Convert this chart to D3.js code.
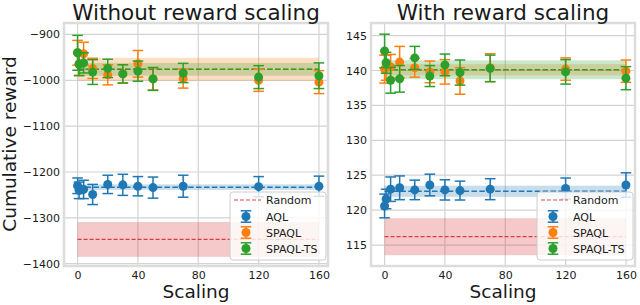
<!DOCTYPE html>
<html>
<head>
<meta charset="utf-8">
<script src="https://cdn.jsdelivr.net/npm/d3@7"></script>
<style>
body { margin: 0; background: #fff; }
text { font-family: 'DejaVu Sans', sans-serif; fill: #1a1a1a; }
</style>
</head>
<body>
<script>
var scaling = [0, 1, 4, 10, 20, 30, 40, 50, 70, 120, 160];
var seriesNames = ['AQL', 'SPAQL', 'SPAQL-TS'];
var xTicks = [0, 40, 80, 120, 160];

// without reward scaling
var aqlNoScale = [-1230, -1240, -1238, -1249, -1227, -1228, -1231, -1234, -1231, -1232, -1231];
var aqlNoScaleErr = [17, 18, 20, 22, 20, 23, 21, 23, 24, 22, 22];
var spaqlNoScale = [-940, -964, -942, -974, -988, -986, -964, -997, -996, -1000, -1004];
var spaqlNoScaleErr = [27, 25, 25, 22, 22, 20, 29, 24, 21, 24, 25];
var spaqlTsNoScale = [-940, -965, -962, -982, -974, -986, -980, -997, -984, -993, -990];
var spaqlTsNoScaleErr = [38, 25, 22, 27, 20, 20, 22, 25, 21, 25, 28];
var meanNoScale = [-1233, -976, -976];
var bandNoScale = [6, 25, 14];
var randomNoScale = -1347;
var randomNoScaleBand = 38;
var yTicksNoScale = [-1400, -1300, -1200, -1100, -1000, -900];

// with reward scaling
var aqlScale = [120.6, 121.6, 123.0, 123.2, 122.9, 123.6, 122.9, 122.8, 123.0, 123.1, 123.6];
var aqlScaleErr = [1.7, 1.4, 1.75, 1.7, 1.4, 1.55, 1.45, 1.35, 1.5, 1.5, 1.75];
var spaqlScale = [140.2, 140.4, 140.5, 141.2, 140.4, 139.8, 139.8, 138.5, 140.4, 140.2, 139.9];
var spaqlScaleErr = [2.0, 1.8, 1.8, 2.25, 1.35, 1.55, 1.75, 1.9, 2.0, 1.6, 1.6];
var spaqlTsScale = [142.8, 141.1, 138.6, 138.8, 141.8, 139.2, 140.8, 139.7, 140.3, 139.8, 138.9];
var spaqlTsScaleErr = [2.4, 1.5, 1.85, 1.9, 1.65, 1.5, 1.55, 1.8, 1.9, 1.75, 1.65];
var meanScale = [122.7, 140.1, 140.1];
var bandScale = [0.8, 0.8, 1.35];
var randomScale = 116.2;
var randomScaleBand = 2.65;
var yTicksScale = [115, 120, 125, 130, 135, 140, 145];

var chart = function() {
  var svg;
  var colors = ['#1f77b4', '#ff7f0e', '#2ca02c'];
  var red = '#d62728';
  var top = 23;
  var bottom = 266;

  var createSvg = function() {
    svg = d3.select('body')
      .append('svg')
      .attr('width', 640)
      .attr('height', 305);
  };

  var drawPanel = function(options) {
    var x = d3.scaleLinear().domain([-9, 166]).range([options.left, options.right]);
    var y = d3.scaleLinear().domain(options.yDomain).range([bottom, top]);
    var g = svg.append('g');

    // grid
    g.selectAll('.vgrid').data(xTicks).enter().append('line')
      .attr('x1', function(d) { return x(d); })
      .attr('x2', function(d) { return x(d); })
      .attr('y1', top).attr('y2', bottom)
      .style('stroke', '#d3d3d3').style('stroke-width', 1.2);
    g.selectAll('.hgrid').data(options.yTicks).enter().append('line')
      .attr('x1', options.left).attr('x2', options.right)
      .attr('y1', function(d) { return y(d); })
      .attr('y2', function(d) { return y(d); })
      .style('stroke', '#d3d3d3').style('stroke-width', 1.2);

    // tick labels
    var yAxis = d3.axisLeft(y).tickValues(options.yTicks).tickSize(0).tickPadding(4).tickFormat(d3.format('d'));
    var yg = g.append('g').attr('transform', 'translate(' + options.left + ',0)').call(yAxis);
    var xAxis = d3.axisBottom(x).tickValues(xTicks).tickSize(0).tickPadding(5);
    var xg = g.append('g').attr('transform', 'translate(0,' + bottom + ')').call(xAxis);
    [yg, xg].forEach(function(a) {
      a.select('.domain').remove();
      a.selectAll('text').style('font-size', '11px').style('font-family', 'DejaVu Sans').attr('fill', '#1a1a1a');
    });

    var x0 = scaling[0];
    var x1 = scaling[scaling.length - 1];

    // random band and line
    g.append('rect')
      .attr('x', x(x0)).attr('width', x(x1) - x(x0))
      .attr('y', y(options.random + options.randomBand))
      .attr('height', y(options.random - options.randomBand) - y(options.random + options.randomBand))
      .style('fill', red).style('opacity', 0.25);
    g.append('line')
      .attr('x1', x(x0)).attr('x2', x(x1))
      .attr('y1', y(options.random)).attr('y2', y(options.random))
      .style('stroke', red).style('stroke-width', 1.1).style('stroke-dasharray', '4,2').style('opacity', 0.85);

    // mean bands and lines
    for(var s = 0; s < 3; s++) {
      g.append('rect')
        .attr('x', x(x0)).attr('width', x(x1) - x(x0))
        .attr('y', y(options.means[s] + options.bands[s]))
        .attr('height', y(options.means[s] - options.bands[s]) - y(options.means[s] + options.bands[s]))
        .style('fill', colors[s]).style('opacity', 0.25);
    }
    for(var s = 0; s < 3; s++) {
      g.append('line')
        .attr('x1', x(x0)).attr('x2', x(x1))
        .attr('y1', y(options.means[s])).attr('y2', y(options.means[s]))
        .style('stroke', colors[s]).style('stroke-width', 1.5).style('stroke-dasharray', '5.5,2.4');
    }

    // error bars
    for(var s = 0; s < 3; s++) {
      var pts = scaling.map(function(d, i) {
        return { x: d, m: options.values[s][i], e: options.errors[s][i] };
      });
      var eb = g.append('g').style('stroke', colors[s]).style('stroke-width', 1.5);
      eb.selectAll('.bar').data(pts).enter().append('line')
        .attr('x1', function(d) { return x(d.x); })
        .attr('x2', function(d) { return x(d.x); })
        .attr('y1', function(d) { return y(d.m - d.e); })
        .attr('y2', function(d) { return y(d.m + d.e); });
      [-1, 1].forEach(function(sign) {
        eb.selectAll('.cap').data(pts).enter().append('line')
          .attr('x1', function(d) { return x(d.x) - 5.3; })
          .attr('x2', function(d) { return x(d.x) + 5.3; })
          .attr('y1', function(d) { return y(d.m + sign * d.e); })
          .attr('y2', function(d) { return y(d.m + sign * d.e); });
      });
      g.selectAll('.dot' + s).data(pts).enter().append('circle')
        .attr('cx', function(d) { return x(d.x); })
        .attr('cy', function(d) { return y(d.m); })
        .attr('r', 4.5)
        .style('fill', colors[s]);
    }

    // frame
    g.append('rect')
      .attr('x', options.left).attr('y', top)
      .attr('width', options.right - options.left).attr('height', bottom - top)
      .style('fill', 'none').style('stroke', '#dcdcdc').style('stroke-width', 2.5);

    // title and x label
    svg.append('text')
      .attr('x', (options.left + options.right) / 2).attr('y', 19.5)
      .attr('text-anchor', 'middle').style('font-size', '21.5px')
      .text(options.title);
    svg.append('text')
      .attr('x', (options.left + options.right) / 2).attr('y', 298)
      .attr('text-anchor', 'middle').style('font-size', '18.5px')
      .text('Scaling');

    drawLegend(options.right - 2);
  };

  var drawLegend = function(right) {
    var left = right - 96;
    var lg = svg.append('g');
    lg.append('rect')
      .attr('x', left).attr('y', 192).attr('width', 96).attr('height', 68).attr('rx', 3)
      .style('fill', 'white').style('fill-opacity', 0.8)
      .style('stroke', '#cccccc').style('stroke-width', 1);
    var rows = [200, 216.5, 232.5, 248.5];
    lg.append('line')
      .attr('x1', left + 4).attr('x2', left + 31)
      .attr('y1', rows[0]).attr('y2', rows[0])
      .style('stroke', red).style('stroke-width', 1.1).style('stroke-dasharray', '4,2').style('opacity', 0.85);
    lg.append('text').attr('x', left + 36).attr('y', rows[0] + 4).style('font-size', '11px').text('Random');
    for(var s = 0; s < 3; s++) {
      var cy = rows[s + 1];
      var cx = left + 16;
      var m = lg.append('g').style('stroke', colors[s]).style('stroke-width', 1.5);
      m.append('line').attr('x1', cx).attr('x2', cx).attr('y1', cy - 5.7).attr('y2', cy + 5.7);
      m.append('line').attr('x1', cx - 5.3).attr('x2', cx + 5.3).attr('y1', cy - 5.7).attr('y2', cy - 5.7);
      m.append('line').attr('x1', cx - 5.3).attr('x2', cx + 5.3).attr('y1', cy + 5.7).attr('y2', cy + 5.7);
      lg.append('circle').attr('cx', cx).attr('cy', cy).attr('r', 4.5).style('fill', colors[s]);
      lg.append('text').attr('x', left + 36).attr('y', cy + 4).style('font-size', '11px').text(seriesNames[s]);
    }
  };

  var drawYLabel = function() {
    svg.append('text')
      .attr('transform', 'translate(15.5,144) rotate(-90)')
      .attr('text-anchor', 'middle').style('font-size', '18.5px')
      .text('Cumulative reward');
  };

  var draw = function() {
    createSvg();
    drawPanel({
      left: 64, right: 328,
      yDomain: [-1405, -875], yTicks: yTicksNoScale,
      title: 'Without reward scaling',
      values: [aqlNoScale, spaqlNoScale, spaqlTsNoScale],
      errors: [aqlNoScaleErr, spaqlNoScaleErr, spaqlTsNoScaleErr],
      means: meanNoScale, bands: bandNoScale,
      random: randomNoScale, randomBand: randomNoScaleBand
    });
    drawPanel({
      left: 371, right: 635,
      yDomain: [112, 146.8], yTicks: yTicksScale,
      title: 'With reward scaling',
      values: [aqlScale, spaqlScale, spaqlTsScale],
      errors: [aqlScaleErr, spaqlScaleErr, spaqlTsScaleErr],
      means: meanScale, bands: bandScale,
      random: randomScale, randomBand: randomScaleBand
    });
    drawYLabel();
  };

  return { draw: draw };
}();

chart.draw();
</script>
</body>
</html>
